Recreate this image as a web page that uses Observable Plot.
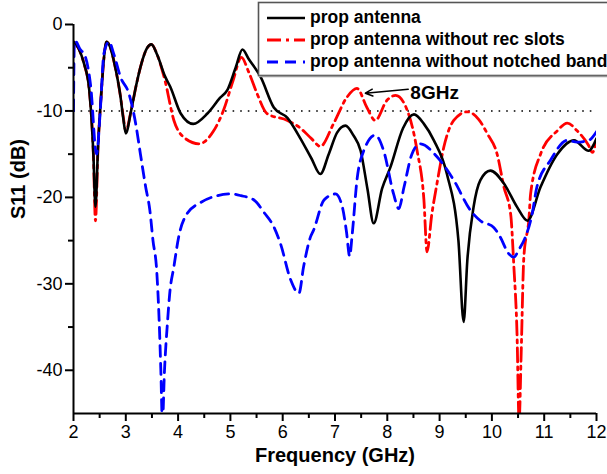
<!DOCTYPE html>
<html><head><meta charset="utf-8">
<script src="https://cdn.jsdelivr.net/npm/d3@7"></script>
<script src="https://cdn.jsdelivr.net/npm/@observablehq/plot@0.6"></script>
<style>
html,body{margin:0;padding:0;background:#fff;overflow:hidden;}
#wrap{position:relative;width:607px;height:474px;overflow:hidden;}
#legend{position:absolute;left:0;top:0;}
</style></head><body><div id="wrap"></div>
<script>
// ---- data ----
const freqBlack = [2.0,2.1,2.2,2.3,2.38,2.42,2.47,2.52,2.58,2.63,2.7,2.8,2.9,2.95,3.0,3.1,3.2,3.3,3.4,3.49,3.6,3.75,3.85,4.05,4.29,4.56,4.8,4.94,5.1,5.23,5.35,5.58,5.83,6.09,6.34,6.55,6.72,6.88,7.04,7.2,7.35,7.49,7.62,7.74,7.9,8.06,8.3,8.51,8.7,8.89,9.14,9.36,9.46,9.53,9.65,9.78,9.97,10.23,10.48,10.68,10.93,11.25,11.57,11.85,12.0];
const s11Black  = [-2.0,-2.8,-4.5,-7.5,-15,-21.1,-14,-9,-4,-2.0,-2.6,-5,-8.4,-10.8,-12.6,-10,-7,-4.5,-2.8,-2.3,-3.5,-6,-7.2,-10.3,-11.5,-10.3,-8.5,-7.6,-5,-2.9,-4,-6.1,-9.6,-10.8,-13.2,-15.5,-17.3,-15,-12.5,-11.7,-12.8,-14.6,-19,-23,-19,-16.5,-12,-10.4,-11.5,-13.4,-17.3,-25,-34.4,-27.3,-21.1,-18,-16.9,-18.4,-21.1,-22.7,-18.8,-15,-13.4,-14.6,-13.2];

const freqRed = [2.0,2.1,2.2,2.3,2.38,2.42,2.47,2.52,2.58,2.63,2.7,2.8,2.9,2.95,3.0,3.1,3.2,3.3,3.4,3.49,3.6,3.75,3.92,4.1,4.4,4.68,4.87,5.05,5.21,5.35,5.51,5.7,6.09,6.34,6.55,6.72,6.97,7.23,7.42,7.61,7.77,7.99,8.16,8.38,8.57,8.7,8.76,8.85,8.95,9.08,9.27,9.53,9.75,9.91,10.1,10.23,10.36,10.42,10.48,10.52,10.56,10.61,10.71,10.74,10.93,11.25,11.44,11.63,11.85,11.92,12.0];
const s11Red  = [-2.0,-2.8,-4.5,-7.5,-15,-22.7,-14,-9,-4,-2.0,-2.6,-5,-8.4,-10.6,-12.3,-10,-7,-4.5,-2.8,-2.3,-3.5,-6.5,-11.1,-13,-13.8,-12.3,-9.9,-6.5,-3.8,-5.5,-8,-10.3,-11.1,-12,-13.2,-14.1,-11.5,-8.4,-7.4,-9.6,-11.1,-8.8,-8.2,-9.9,-14.6,-20.3,-26.3,-22,-18.4,-14.2,-11.1,-10.1,-11,-12.6,-15,-18.8,-22,-28,-35.7,-46,-38,-27,-22.3,-19.6,-15,-12.3,-11.4,-12.3,-14,-14.8,-13.4];

const freqBlue = [2.0,2.015,2.03,2.12,2.23,2.33,2.44,2.52,2.58,2.68,2.77,2.9,3.06,3.19,3.28,3.38,3.46,3.52,3.59,3.64,3.67,3.7,3.74,3.8,3.84,3.92,4.01,4.17,4.43,4.75,5.0,5.2,5.45,5.65,5.83,5.96,6.15,6.31,6.4,6.53,6.59,6.79,7.01,7.14,7.22,7.28,7.33,7.42,7.55,7.77,7.93,8.12,8.22,8.32,8.47,8.63,8.95,9.27,9.59,9.78,10.04,10.16,10.32,10.42,10.52,10.64,10.77,10.86,11.12,11.44,11.63,11.85,12.0];
const s11Blue  = [-10,-2.5,-1.9,-2.8,-3.8,-7.2,-15,-9.2,-3.4,-2.0,-3.4,-6.1,-8,-11.5,-15,-18.8,-21.5,-25,-28.4,-34.6,-40,-46,-40,-34.2,-31.1,-28,-24.6,-21.9,-20.6,-19.8,-19.6,-19.8,-20.3,-21.8,-23.4,-25.4,-29.5,-31.1,-28,-24.6,-23.8,-20.3,-19.6,-21.1,-24,-26.8,-24.2,-18,-14.6,-12.8,-14.6,-19.6,-21.3,-18.8,-15,-13.8,-15.3,-18,-21.5,-22.7,-23.5,-24.6,-26.5,-26.9,-26,-24.6,-21.9,-18.8,-15.7,-13.4,-13.6,-13.4,-12.4];

const seriesNames = ["prop antenna","prop antenna without rec slots","prop antenna without notched band"];
const seriesColors = ["#000000","#ff0000","#0000ff"];
const seriesDash = [null,"14,5,3,5","11,7"];
const seriesWidth = [2.6,2.8,2.8];

const xTicks = [2,3,4,5,6,7,8,9,10,11,12];
const xMinor = [2.5,3.5,4.5,5.5,6.5,7.5,8.5,9.5,10.5,11.5];
const yTicks = [0,-10,-20,-30,-40];
const yMinor = [-5,-15,-25,-35];
const refLevel = [-10];
const annotText = ["8GHz"]; const annotX = [8.44]; const annotY = [-8.67];
const arrowFrom = [8.40,-7.5]; const arrowTo = [7.58,-7.95];
const xLabel = "Frequency (GHz)"; const yLabel = "S11 (dB)";

const rows = (fs, ss) => fs.map((f,i) => ({f, s: ss[i]}));
const blackRows = rows(freqBlack, s11Black);
const redRows = rows(freqRed, s11Red);
const blueRows = rows(freqBlue, s11Blue);
const lineOpts = i => ({x:"f", y:"s", stroke:seriesColors[i], strokeWidth:seriesWidth[i], strokeDasharray:seriesDash[i] || undefined, curve:"monotone-x", clip:true});

const chart = Plot.plot({
  width:607, height:474, marginLeft:73, marginRight:11, marginTop:24, marginBottom:61,
  style:{fontFamily:"'Liberation Sans', Arial, sans-serif", fontSize:"18px", color:"#000", background:"#fff", overflow:"visible"},
  x:{domain:[2,12]},
  y:{domain:[-45,0]},
  marks:[
    Plot.ruleY(refLevel, {stroke:"#000", strokeWidth:1.6, strokeDasharray:"1.6,6"}),
    Plot.line(redRows, lineOpts(1)),
    Plot.line(blackRows, lineOpts(0)),
    Plot.line(blueRows, lineOpts(2)),
    Plot.arrow([{x1:arrowFrom[0],y1:arrowFrom[1],x2:arrowTo[0],y2:arrowTo[1]}], {x1:"x1",y1:"y1",x2:"x2",y2:"y2", stroke:"#000", strokeWidth:1.5, headLength:8, headAngle:50}),
    Plot.text(annotText, {x:annotX, y:annotY, text:d=>d, textAnchor:"start", lineAnchor:"bottom", fontWeight:"bold", fontSize:19}),
    Plot.ruleX([2], {stroke:"#000", strokeWidth:2}),
    Plot.ruleY([-45], {stroke:"#000", strokeWidth:2}),
    Plot.axisX({ticks:xTicks, tickSize:8, tickPadding:4, strokeWidth:2, fontSize:18, tickFormat:d=>String(d), label:null}),
    Plot.axisX({ticks:xMinor, tickSize:5, strokeWidth:2, tickFormat:()=>"", label:null}),
    Plot.axisY({ticks:yTicks, tickSize:8, tickPadding:3, strokeWidth:2, fontSize:18, tickFormat:d=>String(d), label:null}),
    Plot.axisY({ticks:yMinor, tickSize:5, strokeWidth:2, tickFormat:()=>"", label:null}),
    Plot.text([xLabel], {frameAnchor:"bottom", dy:48, text:d=>d, fontWeight:"bold", fontSize:20}),
    Plot.text([yLabel], {frameAnchor:"left", dx:-55, rotate:-90, text:d=>d, fontWeight:"bold", fontSize:20})
  ]
});
const wrap = document.getElementById("wrap");
wrap.appendChild(chart);

// legend (overlay, partly cut off at the right edge as in the reference)
const lg = d3.select(wrap).append("svg").attr("id","legend").attr("width",607).attr("height",90)
  .style("font-family","'Liberation Sans', Arial, sans-serif");
lg.append("rect").attr("x",258.5).attr("y",2.5).attr("width",380).attr("height",73)
  .attr("fill","#fff").attr("stroke","#555").attr("stroke-width",1.6);
lg.append("line").attr("x1",259).attr("x2",640).attr("y1",76.5).attr("y2",76.5).attr("stroke","#999").attr("stroke-width",1.5);
const rowY = [18, 40, 62];
seriesNames.forEach((name,i) => {
  lg.append("line").attr("x1",267).attr("x2",305).attr("y1",rowY[i]).attr("y2",rowY[i])
    .attr("stroke",seriesColors[i]).attr("stroke-width",seriesWidth[i])
    .attr("stroke-dasharray",seriesDash[i]);
  lg.append("text").attr("x",310).attr("y",rowY[i]+5).attr("font-size",17.5).attr("font-weight","bold").text(name);
});
</script></body></html>
